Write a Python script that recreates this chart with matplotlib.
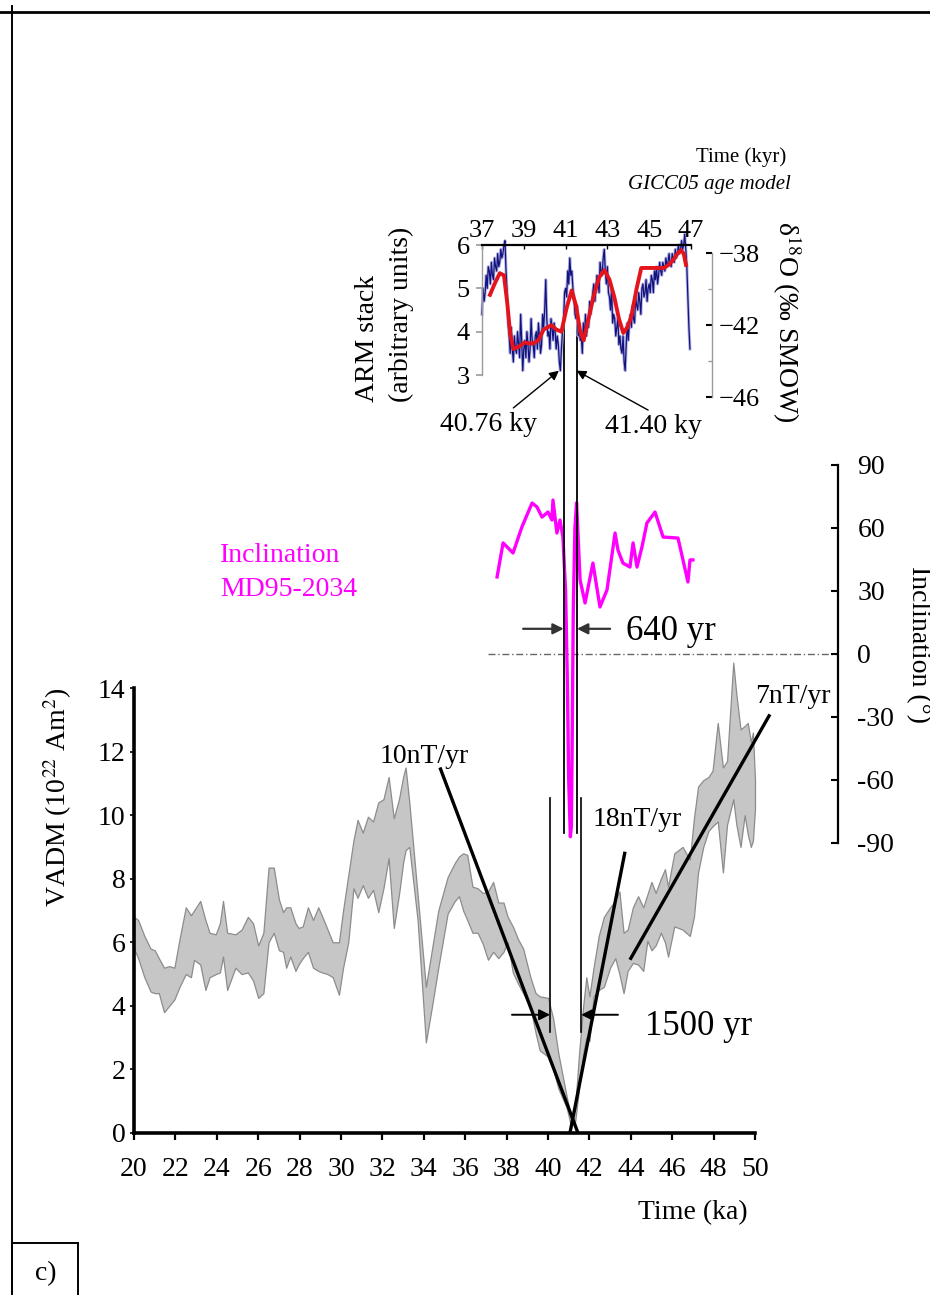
import numpy as np
import matplotlib
matplotlib.use("Agg")
import matplotlib.pyplot as plt
from matplotlib.lines import Line2D
from matplotlib.patches import Rectangle

plt.rcParams["font.family"] = ["Liberation Serif", "DejaVu Serif"]
plt.rcParams["mathtext.fontset"] = "stix"

# ---------------- VADM stack (grey uncertainty band) ----------------
vadm_time = [20.0, 20.2, 20.5, 20.8, 21.0, 21.2, 21.45, 21.7, 21.95, 22.2,
             22.5, 22.75, 22.9, 23.2, 23.45, 23.65, 23.95, 24.15, 24.3, 24.5,
             24.9, 25.2, 25.5, 25.75, 26.0, 26.25, 26.5, 26.75, 27.0, 27.2,
             27.35, 27.55, 27.8, 27.95, 28.15, 28.4, 28.65, 28.9, 29.1, 29.35,
             29.6, 29.9, 30.1, 30.35, 30.6, 30.8, 31.05, 31.3, 31.55, 31.8,
             32.05, 32.3, 32.55, 32.8, 33.0, 33.12, 33.3, 33.7, 34.1, 34.4,
             34.7, 35.15, 35.5, 35.7, 35.9, 36.1, 36.35, 36.6, 36.85, 37.1,
             37.35, 37.6, 37.85, 38.05, 38.3, 38.55, 38.8, 39.15, 39.4, 39.6,
             40.0, 40.25, 40.5, 40.9, 41.1, 41.3, 41.5, 41.7, 41.85, 42.0,
             42.2, 42.45, 42.7, 43.0, 43.25, 43.45, 43.65, 43.85, 44.1, 44.35,
             44.6, 44.8, 45.0, 45.2, 45.45, 45.65, 45.8, 46.1, 46.5, 46.85,
             47.05, 47.25, 47.5, 47.75, 47.95, 48.2, 48.45, 48.65, 48.95, 49.1,
             49.3, 49.5, 49.65, 49.8, 49.9, 50.0]
vadm_upper = [6.8, 6.7, 6.2, 5.8, 5.75, 5.5, 5.2, 5.25, 5.2, 6.1,
              7.1, 6.85, 7.0, 7.3, 6.7, 6.3, 6.25, 6.6, 7.3, 6.3,
              6.25, 6.4, 6.8, 6.6, 5.9, 6.3, 8.35, 8.35, 7.35, 6.95,
              7.1, 7.1, 6.6, 6.45, 6.5, 7.1, 6.7, 7.1, 6.8, 6.4,
              6.0, 6.0, 7.0, 8.1, 9.2, 9.85, 9.45, 9.95, 9.8, 10.4,
              10.5, 11.2, 9.9, 10.5, 11.2, 11.5, 10.4, 7.5, 4.6, 5.8,
              7.0, 8.05, 8.5, 8.7, 8.8, 8.75, 7.75, 7.7, 7.55, 7.6,
              7.9, 7.25, 7.25, 6.8, 6.5, 6.1, 5.8, 4.9, 4.4, 4.3,
              4.25, 3.6, 2.5, 1.15, 0.55, 0.7, 2.5, 4.0, 4.9, 4.3,
              5.2, 6.2, 6.8, 7.1, 7.3, 7.6, 6.3, 6.4, 7.1, 7.45,
              7.1, 7.5, 7.9, 7.55, 8.0, 8.3, 7.75, 8.8, 9.0, 8.6,
              9.9, 10.9, 11.1, 11.2, 11.4, 12.9, 11.5, 11.7, 14.8, 13.8,
              12.7, 12.8, 12.9, 12.3, 12.6, 11.1]
vadm_lower = [5.8, 5.5, 4.9, 4.45, 4.4, 4.4, 3.8, 4.0, 4.2, 4.6,
              5.0, 4.9, 5.45, 5.3, 4.5, 4.9, 5.0, 5.05, 5.55, 4.5,
              5.2, 5.0, 5.05, 4.8, 4.25, 4.4, 6.0, 6.3, 5.75, 5.7,
              5.2, 5.55, 5.1, 5.3, 5.5, 5.7, 5.2, 5.1, 5.05, 5.0,
              4.9, 4.35, 5.2, 6.0, 7.7, 7.4, 7.8, 7.4, 7.65, 6.95,
              7.7, 8.65, 6.45, 7.5, 8.5, 8.9, 9.0, 6.7, 2.85, 4.0,
              5.2, 6.9, 7.3, 7.45, 7.0, 6.7, 6.3, 6.3, 5.95, 5.45,
              5.7, 5.5, 5.7, 6.0, 5.05, 4.7, 4.4, 3.95, 3.15, 2.6,
              2.4, 2.0, 1.4, 0.8, 0.25, 0.3, 1.4, 2.5, 3.0, 2.9,
              4.3, 4.5, 4.6, 5.2, 5.5, 5.0, 4.4, 5.1, 5.35, 5.3,
              5.1, 6.05, 5.75, 5.9, 6.3, 6.0, 5.55, 6.5, 6.4, 6.2,
              6.8, 8.2, 9.0, 9.5, 9.65, 9.8, 8.2, 9.7, 10.5, 9.7,
              9.0, 10.0, 9.4, 9.0, 9.2, 10.2]

# Rate-of-change fits: label, (start time, start VADM), (end time, end VADM)
rate_labels = ["10nT/yr", "18nT/yr", "7nT/yr"]
rate_start = [(34.78, 11.5), (43.72, 8.85), (43.96, 5.45)]
rate_end = [(41.45, 0.0), (41.06, 0.0), (50.72, 13.17)]
rate_label_pos = [(31.88, 11.84), (42.17, 9.86), (50.0, 13.73)]

# Duration bracket of the low-intensity interval (ka)
low_start, low_end = 40.1, 41.6
low_top, low_bottom, low_arrow = 10.55, 3.18, 3.72

# ---------------- Inclination, core MD95-2034 ----------------
inc_time = [37.54, 37.83, 38.31, 38.74, 39.23, 39.47, 39.71, 40.0, 40.19, 40.24,
            40.43, 40.58, 40.72, 40.85, 40.93, 41.0, 41.08, 41.13, 41.17, 41.22,
            41.3, 41.38, 41.55, 41.79, 42.17, 42.51, 42.85, 43.24, 43.38, 43.62,
            43.96, 44.11, 44.3, 44.54, 44.78, 45.17, 45.56, 46.28, 46.52, 46.76,
            46.86, 47.0]
inc_value = [36.7, 52.9, 48.1, 60.5, 71.9, 70.0, 65.2, 67.6, 63.8, 73.3,
             57.6, 63.8, 55.7, 30.0, -10.0, -60.0, -87.0, -82.0, -40.0, 20.0,
             60.0, 72.0, 35.2, 24.3, 43.3, 22.4, 30.5, 57.6, 49.5, 43.3,
             41.4, 52.9, 41.4, 51.0, 62.4, 67.6, 55.7, 55.2, 44.8, 34.3,
             44.8, 44.8]
inc_ticks = [-90, -60, -30, 0, 30, 60, 90]
inc_ticklabels = ["-90", "-60", "-30", "0", "30", "60", "90"]

# Excursion boundaries (ky, GICC05)
exc_start, exc_end = 40.76, 41.40

# ---------------- ARM stack (GICC05 age model) ----------------
arm_start, arm_step = 37.0, 0.05
arm_value = [4.4, 5.0, 4.7, 4.9, 5.3, 5.0, 5.5, 5.4, 5.1, 5.6, 5.3, 5.2, 5.7, 5.5, 5.4, 5.8, 5.5, 5.6, 5.9, 5.7,
             5.8, 6.0, 6.1, 5.4, 4.9, 4.2, 3.9, 3.5, 4.1, 3.6, 3.3, 3.9, 3.6, 3.5, 4.0, 3.7, 3.4, 4.4, 3.8, 3.1,
             3.6, 3.8, 3.4, 4.0, 3.7, 3.3, 3.6, 4.3, 3.8, 3.7, 3.4, 3.9, 4.0, 3.6, 4.2, 3.9, 3.5, 3.7, 4.4, 4.1,
             4.5, 5.2, 4.3, 3.9, 4.0, 3.6, 4.3, 4.1, 3.8, 4.2, 4.0, 3.6, 3.9, 3.7, 3.3, 3.1, 3.6, 4.0, 4.2, 4.9,
             5.0, 4.8, 5.4, 5.1, 5.7, 5.3, 5.4, 5.0, 4.8, 4.4, 4.3, 4.6, 3.9, 4.1, 3.8, 3.9, 3.5, 4.2, 3.8, 4.4,
             3.9, 4.3, 4.1, 4.7, 4.4, 4.6, 4.9, 5.1, 4.7, 5.0, 5.3, 5.2, 4.9, 5.6, 5.4, 5.3, 5.7, 5.9, 5.4, 5.1,
             5.5, 4.9, 4.8, 4.5, 5.0, 4.2, 4.4, 4.3, 3.9, 4.1, 4.3, 3.7, 3.9, 3.6, 3.5, 3.9, 3.3, 3.1, 3.7, 4.2,
             3.8, 4.2, 4.4, 4.1, 4.6, 4.3, 4.2, 4.8, 4.6, 4.5, 4.9, 4.7, 4.4, 5.0, 5.1, 4.8, 4.9, 5.2, 4.7, 5.0,
             5.1, 4.9, 5.3, 5.2, 4.9, 5.4, 5.2, 5.5, 5.1, 5.3, 5.6, 5.4, 5.3, 5.6, 5.5, 5.4, 5.7, 5.5, 5.6, 5.8,
             5.6, 5.5, 5.8, 5.7, 5.6, 5.9, 5.7, 5.8, 6.0, 5.8, 5.9, 6.1, 5.9, 6.0, 6.25, 5.9, 5.5, 4.8, 4.1, 3.6]
arm_time = np.round(arm_start + arm_step * np.arange(len(arm_value)), 2)

# delta-18O (smoothed, plotted on the ARM stack scale)
d18o_time = [37.38, 37.6, 37.85, 38.05, 38.2, 38.35, 38.5, 38.75, 39.05, 39.4,
             39.7, 39.95, 40.33, 40.55, 40.8, 41.05, 41.29, 41.5, 41.7, 41.86,
             42.05, 42.33, 42.6, 42.86, 43.1, 43.33, 43.55, 43.76, 43.95, 44.14,
             44.4, 44.62, 45.0, 45.71, 45.95, 46.14, 46.35, 46.52, 46.65, 46.76]
d18o_value = [4.85, 5.1, 5.35, 5.3, 4.7, 3.95, 3.6, 3.65, 3.75, 3.72,
              3.8, 4.05, 4.15, 4.05, 4.0, 4.55, 4.95, 4.6, 4.0, 3.8,
              4.2, 4.8, 5.25, 5.42, 5.2, 4.8, 4.3, 3.97, 4.1, 4.34,
              5.0, 5.47, 5.47, 5.47, 5.55, 5.65, 5.8, 5.88, 5.8, 5.54]

W, H = 930, 1295
fig = plt.figure(figsize=(W / 100, H / 100), dpi=100)


def rect(x0, y0, x1, y1):
    """Figure rectangle from pixel corners (origin at top-left)."""
    return [x0 / W, 1 - y1 / H, (x1 - x0) / W, (y1 - y0) / H]


def fpos(x, y):
    return x / W, 1 - y / H


# ---------------- main VADM panel ----------------
ax = fig.add_axes(rect(134, 688, 755, 1133))
ax.fill_between(vadm_time, vadm_lower, vadm_upper, facecolor="#c6c6c6",
                edgecolor="#8c8c8c", linewidth=0.9, clip_on=False, zorder=1)
ax.set_xlim(20, 50)
ax.set_ylim(0, 14)
ax.set_xticks(range(20, 51, 2))
ax.set_yticks(range(0, 15, 2))
for s in ("top", "right"):
    ax.spines[s].set_visible(False)
for s in ("left", "bottom"):
    ax.spines[s].set_linewidth(2.6)
ax.tick_params(axis="x", direction="out", length=5, width=1.6, labelsize=20, pad=12)
ax.tick_params(axis="y", direction="out", length=3, width=1.2, labelsize=20, pad=3)
ax.patch.set_visible(False)

for (x0, y0), (x1, y1) in zip(rate_start, rate_end):
    ax.plot([x0, x1], [y0, y1], color="black", lw=2.4, clip_on=False,
            solid_capstyle="butt", zorder=3)
for lab, (tx, ty) in zip(rate_labels, rate_label_pos):
    ax.text(tx, ty, lab, fontsize=20, ha="left", va="center", zorder=4)

for t in (low_start, low_end):
    ax.plot([t, t], [low_bottom, low_top], color="black", lw=1.2, zorder=3)
ax.annotate("", xy=(low_start, low_arrow), xytext=(38.26, low_arrow),
            arrowprops=dict(arrowstyle="-|>", color="black", lw=1.4,
                            mutation_scale=16, shrinkA=0, shrinkB=0))
ax.annotate("", xy=(low_end, low_arrow), xytext=(43.38, low_arrow),
            arrowprops=dict(arrowstyle="-|>", color="black", lw=1.4,
                            mutation_scale=16, shrinkA=0, shrinkB=0))
ax.text(44.69, 3.34, "%d yr" % round((low_end - low_start) * 1000),
        fontsize=25, ha="left", va="center")

fig.text(*fpos(58, 797), "VADM (10$^{22}$ Am$^{2}$)", rotation=90,
         fontsize=20, ha="center", va="center")
fig.text(*fpos(693, 1213), "Time (ka)", fontsize=20, ha="center", va="center")

# ---------------- inclination panel ----------------
axi = fig.add_axes(rect(134, 465, 838, 843))
axi.set_xlim(20, 20 + (838 - 134) / 20.7)
axi.set_ylim(-90, 90)
axi.patch.set_visible(False)
for s in ("left", "top", "bottom"):
    axi.spines[s].set_visible(False)
axi.spines["right"].set_linewidth(1.6)
axi.set_xticks([])
axi.yaxis.tick_right()
axi.set_yticks(inc_ticks)
axi.set_yticklabels(inc_ticklabels)
axi.tick_params(axis="y", direction="in", length=5, width=1.5, labelsize=20, pad=14)

axi.plot([37.1, axi.get_xlim()[1]], [0, 0], color="#666666", lw=1.0,
         linestyle=(0, (5, 2, 1, 2)), zorder=1)
axi.plot(inc_time, inc_value, color="#ff00ff", lw=2.4, zorder=3,
         solid_joinstyle="round", clip_on=False)

# excursion boundaries running from the ARM stack down through the inclination record
for t in (exc_start, exc_end):
    axi.plot([t, t], [-85.2, 158.0], color="black", lw=1.3, clip_on=False, zorder=4)
axi.annotate("", xy=(exc_start, 12), xytext=(38.8, 12),
             arrowprops=dict(arrowstyle="-|>", color="#333333", lw=1.6,
                             mutation_scale=16, shrinkA=0, shrinkB=0))
axi.annotate("", xy=(exc_end, 12), xytext=(43.0, 12),
             arrowprops=dict(arrowstyle="-|>", color="#333333", lw=1.6,
                             mutation_scale=16, shrinkA=0, shrinkB=0))
axi.text(43.75, 10.5, "%d yr" % round((exc_end - exc_start) * 1000),
         fontsize=25, ha="left", va="center")

fig.text(*fpos(220, 555), "Inclination", color="#ff00ff", fontsize=20,
         ha="left", va="center")
fig.text(*fpos(220, 590), "MD95-2034", color="#ff00ff", fontsize=20,
         ha="left", va="center")
fig.text(*fpos(918, 645), "Inclination (°)", rotation=270, fontsize=20,
         ha="center", va="center")

# ---------------- ARM stack / delta-18O inset ----------------
axin = fig.add_axes(rect(482, 245, 691, 375))
axin.set_xlim(37, 47)
axin.set_ylim(3, 6)
axin.patch.set_visible(False)
axin.spines["bottom"].set_visible(False)
axin.spines["right"].set_visible(False)
axin.spines["top"].set_linewidth(1.6)
axin.spines["left"].set_color("#9a9a9a")
axin.spines["left"].set_linewidth(1.0)
axin.xaxis.tick_top()
axin.set_xticks(range(37, 48, 2))
axin.set_yticks([3, 4, 5, 6])
axin.tick_params(axis="x", direction="in", length=3, width=1, labelsize=19, pad=2)
axin.tick_params(axis="y", direction="out", length=4, width=1.2, labelsize=19,
                 pad=5, color="#9a9a9a")
axin.plot(arm_time, arm_value, color="#b3b3e2", lw=2.2, clip_on=False, zorder=1)
axin.plot(arm_time, arm_value, color="#12127e", lw=0.9, clip_on=False, zorder=2)
axin.plot(d18o_time, d18o_value, color="#e3141c", lw=2.8, clip_on=False,
          solid_joinstyle="round", zorder=3)

axin.annotate("", xy=(40.68, 3.1), xytext=(38.5, 2.24),
              arrowprops=dict(arrowstyle="-|>", color="black", lw=1.0,
                              mutation_scale=14, shrinkA=0, shrinkB=0),
              annotation_clip=False)
axin.annotate("", xy=(41.52, 3.1), xytext=(44.95, 2.19),
              arrowprops=dict(arrowstyle="-|>", color="black", lw=1.0,
                              mutation_scale=14, shrinkA=0, shrinkB=0),
              annotation_clip=False)
axin.text(37.3, 1.85, "%.2f ky" % exc_start, fontsize=20, ha="center",
          va="center", clip_on=False)
axin.text(45.2, 1.82, "%.2f ky" % exc_end, fontsize=20, ha="center",
          va="center", clip_on=False)

fig.text(*fpos(367, 338), "ARM stack", rotation=90, fontsize=20,
         ha="center", va="center")
fig.text(*fpos(401, 314), "(arbitrary units)", rotation=90, fontsize=20,
         ha="center", va="center")
fig.text(*fpos(786, 157), "Time (kyr)", fontsize=15, ha="right", va="center")
fig.text(*fpos(791, 185), "GICC05 age model", fontsize=15, style="italic",
         ha="right", va="center")

axd = fig.add_axes(rect(711, 253, 712, 397))
axd.set_ylim(-46, -38)
axd.patch.set_visible(False)
for s in ("left", "top", "bottom"):
    axd.spines[s].set_visible(False)
axd.spines["right"].set_color("#9a9a9a")
axd.spines["right"].set_linewidth(1.0)
axd.set_xticks([])
axd.yaxis.tick_right()
axd.set_yticks([-46, -42, -38])
axd.set_yticks([-44, -40], minor=True)
axd.tick_params(axis="y", which="major", direction="in", length=4, width=1.5,
                labelsize=19, pad=5)
axd.tick_params(axis="y", which="minor", direction="in", length=3, width=1,
                color="#9a9a9a")
fig.text(*fpos(787, 322), "δ$^{18}$O (‰ SMOW)", rotation=270, fontsize=20,
         ha="center", va="center")

# ---------------- panel frame ----------------
fig.add_artist(Line2D([0, 1], [1 - 12 / H] * 2, color="black", lw=2.0))
fig.add_artist(Line2D([12 / W] * 2, [1 - 6 / H, 0], color="black", lw=1.4))
fig.add_artist(Rectangle((12 / W, -0.01), 66 / W, (1295 - 1243) / H + 0.01,
                         fill=False, edgecolor="black", lw=1.4))
fig.text(*fpos(46, 1274), "c)", fontsize=20, ha="center", va="center")

fig.savefig("out.png", dpi=100)
